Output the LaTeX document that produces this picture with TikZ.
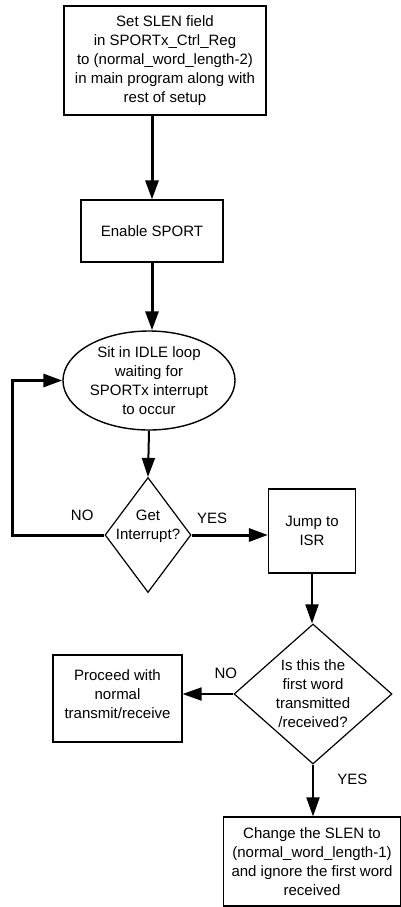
\documentclass[tikz,border=0pt]{standalone}
\usepackage{fontspec}
\setmainfont{Liberation Sans}
\usetikzlibrary{shapes.geometric,arrows.meta}
\begin{document}
\begin{tikzpicture}[x=1pt, y=-1pt, >={Triangle[length=19pt, width=13pt]},
  every node/.style={font=\fontsize{15}{19}\selectfont},
  box/.style={draw, rectangle, line width=1.2pt, align=center},
  idle/.style={draw, ellipse, line width=1.4pt, align=center, inner sep=0pt},
  decision/.style={draw, diamond, line width=1.2pt, align=center, inner sep=-2pt},
  flow/.style={->, line width=2pt},
  bigflow/.style={->, line width=3pt}]
\useasboundingbox (0,0) rectangle (401,907);
\node[box, minimum width=202, minimum height=109] (setslen) at (165,60.5) {Set SLEN field\\in SPORTx\_Ctrl\_Reg\\to (normal\_word\_length-2)\\in main program along with\\rest of setup};
\node[box, minimum width=142, minimum height=62] (enable) at (152,231) {Enable SPORT};
\node[idle, minimum width=172, minimum height=99] (idle) at (149,380.5) {Sit in IDLE loop\\waiting for\\SPORTx interrupt\\to occur};
\node[decision, minimum width=86, minimum height=115, label={[align=center, yshift=8.5pt]center:Get\\Interrupt?}] (getint) at (148,535) {};
\node[box, minimum width=87, minimum height=84] (jump) at (312,531) {Jump to\\ISR};
\node[decision, inner sep=-4pt, minimum width=158, minimum height=140] (first) at (313,694) {Is this the\\first word\\transmitted\\/received?};
\node[box, minimum width=129, minimum height=87, text depth=9pt] (proceed) at (117.5,698.5) {Proceed with\\normal\\transmit/receive};
\node[box, minimum width=177, minimum height=89] (change) at (312,861.5) {Change the SLEN to\\(normal\_word\_length-1)\\and ignore the first word\\received};
\coordinate (loopback) at (12,535);
\draw[bigflow] (setslen.south -| enable.north) -- (enable.north);
\draw[bigflow] (enable.south) -- (enable.south |- idle.north);
\draw[flow] (idle.south) -- (getint.north);
\draw[bigflow] (getint.west) -- node[pos=0.24, above=10pt]{NO} (loopback) |- (idle.west);
\draw[bigflow] (getint.east) -- node[pos=0.27, above=6.7pt]{YES} (getint.east -| jump.west);
\draw[flow] (jump.south) -- (jump.south |- first.north);
\draw[flow] (first.west) -- node[pos=0.15, above=10.7pt]{NO} (first.west -| proceed.east);
\draw[flow] (first.south) -- node[pos=0.28, right=20pt]{YES} (first.south |- change.north);
\end{tikzpicture}
\end{document}
